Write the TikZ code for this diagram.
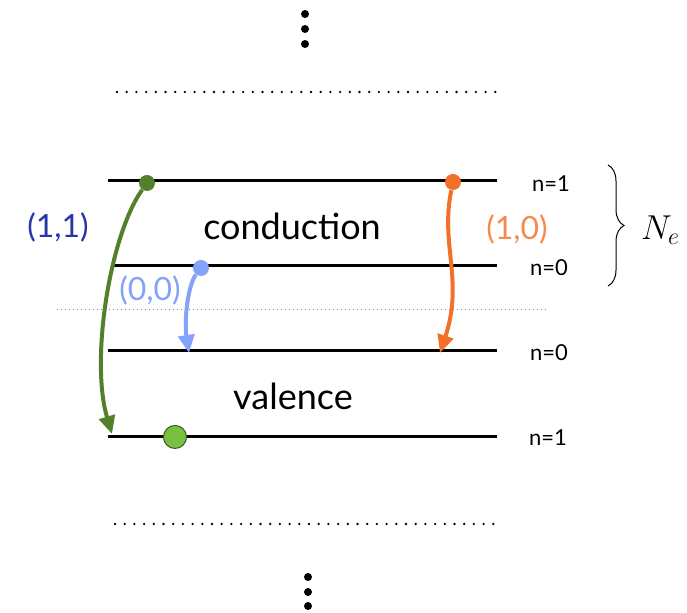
\documentclass[tikz,border=0pt]{standalone}
\usepackage{fontspec}
\setmainfont{Lato}
\usetikzlibrary{arrows.meta}
\usetikzlibrary{decorations.pathreplacing}

\definecolor{darkgreen}{RGB}{84,128,44}
\definecolor{lightgreen}{RGB}{122,192,64}
\definecolor{lightblue}{RGB}{132,162,250}
\definecolor{arrorange}{RGB}{242,112,40}
\definecolor{txtorange}{RGB}{244,140,80}
\definecolor{navy}{RGB}{40,52,170}

\tikzset{
  level/.style={line width=1.5pt,black},
  fermi/.style={line width=0.3pt,gray,dash pattern=on 0.6pt off 1.4pt},
  dotrow/.style={line width=1.3pt,line cap=round,dash pattern=on 0pt off 4.85pt},
  electron/.style={circle,inner sep=0pt,minimum size=8pt},
  jump/.style={line width=2pt,-{Triangle[length=9pt,width=8pt]}},
  nlabel/.style={font=\fontsize{11}{13}\selectfont},
  bandlabel/.style={font=\fontsize{18}{20}\selectfont},
  modelabel/.style={font=\fontsize{16}{18}\selectfont}
}

\begin{document}
\begin{tikzpicture}[x=0.5pt,y=-0.5pt]
\useasboundingbox (0,0) rectangle (687,613);

% vertical dots top and bottom
\foreach \yy in {14,29,44} \fill (305,\yy) circle (2pt);
\foreach \yy in {577,592,606} \fill (308,\yy) circle (2pt);

% dotted cut-off rows
\draw[dotrow] (117,92) -- (496,92);
\draw[dotrow] (115,524) -- (494,524);

% fermi level
\draw[fermi] (57,309) -- (548,309);

% levels
\coordinate (CoL) at (108,181); \coordinate (CoR) at (497,181);
\coordinate (CzL) at (111,266); \coordinate (CzR) at (497,266);
\coordinate (VzL) at (108,351); \coordinate (VzR) at (497,351);
\coordinate (VoL) at (108,437); \coordinate (VoR) at (497,437);
\draw[level] (CoL) -- (CoR);
\draw[level] (CzL) -- (CzR);
\draw[level] (VzL) -- (VzR);
\draw[level] (VoL) -- (VoR);

\node[nlabel] (nCo) at (551,184) {n=1};
\node[nlabel] (nCz) at (549,268) {n=0};
\node[nlabel] (nVz) at (549,353) {n=0};
\node[nlabel] (nVo) at (548,438) {n=1};

\node[bandlabel] (cond) at (292,226) {conduction};
\node[bandlabel] (val) at (293,396) {valence};

% electrons
\node[electron,fill=darkgreen] (eOne) at (147,183) {};
\node[electron,fill=lightblue] (eZero) at (201,268) {};
\node[electron,fill=arrorange] (eMix) at (453,182) {};
\node[electron,fill=lightgreen,draw=darkgreen!70!black,line width=0.5pt,minimum size=11.5pt] (hole) at (175,437) {};

\coordinate (tOne) at (112,434);
\coordinate (tZero) at (189,353);
\coordinate (tMix) at (440,353);

% transitions
\draw[jump,darkgreen] (eOne) .. controls (110,235) and (90,360) .. (tOne);
\draw[jump,lightblue] (eZero) .. controls (188,285) and (184,320) .. (tZero);
\draw[jump,arrorange] (eMix) .. controls (440,245) and (464,280) .. (tMix);

\node[modelabel,text=navy] (mOne) at (58,227) {(1,1)};
\node[modelabel,text=txtorange] (mMix) at (517,229) {(1,0)};
\node[modelabel,text=lightblue] (mZero) at (150,290) {(0,0)};

% brace
\coordinate (bTop) at (608,165);
\coordinate (bBot) at (608,286);
\draw[line width=0.5pt,decorate,decoration={brace,amplitude=8pt}] (bTop) -- (bBot);
\node[font=\fontsize{18}{20}\selectfont,anchor=west] (Ne) at (634,230) {$N_e$};
\end{tikzpicture}
\end{document}
